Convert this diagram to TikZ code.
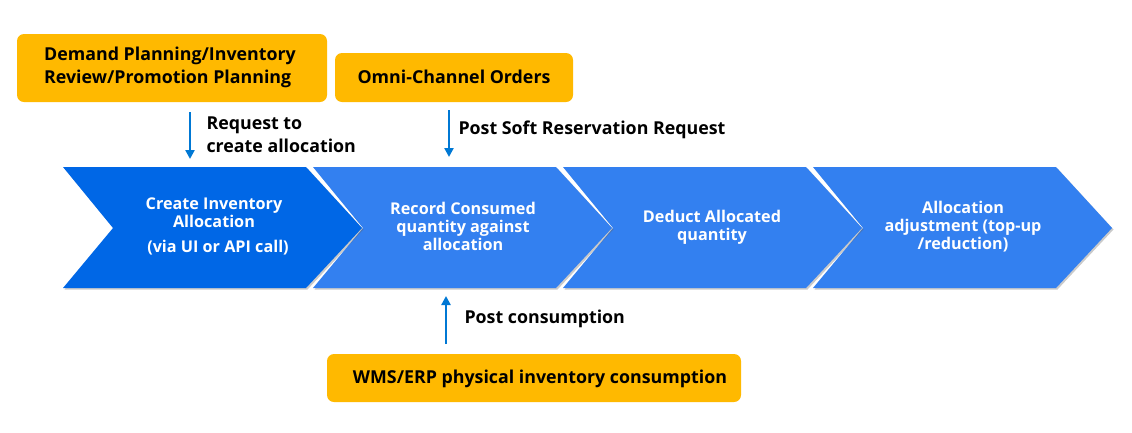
\documentclass[tikz,border=0pt]{standalone}
\usepackage{fontspec}
\setmainfont{Open Sans}
\usetikzlibrary{arrows.meta,shadows}
\definecolor{chevA}{RGB}{0,103,230}
\definecolor{chevB}{RGB}{51,128,240}
\definecolor{boxY}{RGB}{255,185,0}
\definecolor{arrB}{RGB}{0,120,212}
\tikzset{
  ybox/.style={fill=boxY, rounded corners=7pt},
  chevshape/.style={drop shadow={shadow xshift=1.5pt,shadow yshift=-1.5pt,opacity=0.35,fill=black!60}},
  ctext/.style={text=white, font=\bfseries\fontsize{16.2}{18}\selectfont, align=center},
  ytext/.style={text=black, font=\bfseries\fontsize{17.8}{23}\selectfont, align=left},
  ltext/.style={text=black, font=\bfseries\fontsize{17.8}{23}\selectfont, align=left, anchor=west},
  flow/.style={draw=arrB, line width=2.6pt, -{Triangle[width=9pt,length=9pt]}}
}
\begin{document}
\begin{tikzpicture}[x=1pt,y=-1pt]
\useasboundingbox (0,0) rectangle (1132,432);
% chevrons (drawn right to left so left ones overlap)
\foreach \xo/\col in {750/chevB,500/chevB,250/chevB,0/chevA}{
  \fill[\col,chevshape] (63+\xo,167) -- (306+\xo,167) -- (362+\xo,228) -- (306+\xo,288) -- (63+\xo,288) -- (113+\xo,228) -- cycle;
}
\node[ctext] (c1) at (214,213) {Create Inventory\\Allocation};
\node[ctext] (c1b) at (218,248) {(via UI or API call)};
\node[ctext] (c2) at (463,226) {Record Consumed\\quantity against\\allocation};
\node[ctext] (c3) at (712,227) {Deduct Allocated\\quantity};
\node[ctext] (c4) at (963,227) {Allocation\\adjustment (top-up\\/reduction)};
% yellow boxes
\fill[ybox] (17,34) rectangle (327,102);
\node[ytext] (b1) at (170,67) {Demand Planning/Inventory\\Review/Promotion Planning};
\fill[ybox] (335,53) rectangle (573,102);
\node[ytext] (b2) at (454,77) {Omni-Channel Orders};
\fill[ybox] (327,354) rectangle (741,402);
\node[ytext] (b3) at (540,379) {WMS/ERP physical inventory consumption};
% arrows
\coordinate (a1s) at (190,112); \coordinate (a1e) at (190,159);
\coordinate (a2s) at (449,110); \coordinate (a2e) at (449,157);
\coordinate (a3s) at (446,344); \coordinate (a3e) at (446,296);
\draw[flow] (a1s) -- (a1e);
\draw[flow] (a2s) -- (a2e);
\draw[flow] (a3s) -- (a3e);
\node[ltext] (l1) at (203,135) {Request to\\create allocation};
\node[ltext] (l2) at (455,130) {Post Soft Reservation Request};
\node[ltext] (l3) at (461,319) {Post consumption};
\end{tikzpicture}
\end{document}
